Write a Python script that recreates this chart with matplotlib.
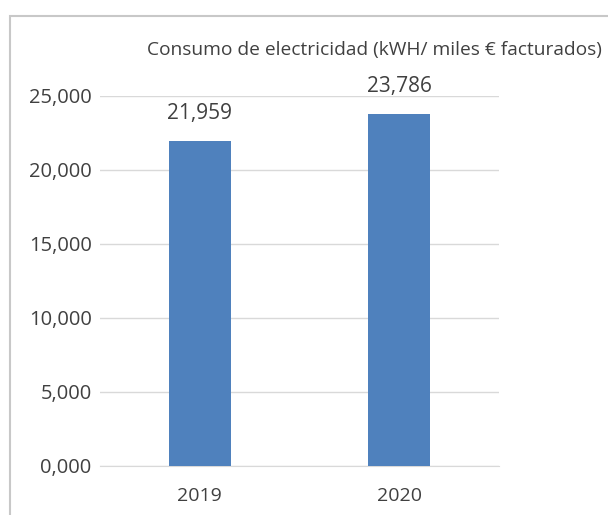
import matplotlib
matplotlib.use("Agg")
import matplotlib.pyplot as plt
from matplotlib.patches import Rectangle
from matplotlib.ticker import FuncFormatter, MultipleLocator

categories = ["2019", "2020"]
values = [21.959, 23.786]
title = "Consumo de electricidad (kWH/ miles € facturados)"

plt.rcParams['font.family'] = ['Open Sans', 'DejaVu Sans']
text_color = "#404040"
bar_color = "#4F81BD"

fig = plt.figure(figsize=(6.08, 5.15), dpi=100)
W, H = 608, 515
ax = fig.add_axes([100 / W, (H - 466) / H, 399 / W, 370 / H])

x = list(range(len(categories)))
ax.bar(x, values, width=0.31, color=bar_color, zorder=3)
ax.set_xlim(-0.5, 1.5)
ax.set_ylim(0, 25)
ax.yaxis.set_major_locator(MultipleLocator(5))
fmt = lambda v, p=None: f"{v:.3f}".replace('.', ',')
ax.yaxis.set_major_formatter(FuncFormatter(fmt))
ax.set_xticks(x)
ax.set_xticklabels(categories)
ax.grid(axis='y', color="#d9d9d9", linewidth=1, zorder=0)
for s in ax.spines.values():
    s.set_visible(False)
ax.spines['bottom'].set_visible(True)
ax.spines['bottom'].set_color("#d9d9d9")
ax.tick_params(axis='y', length=0, labelsize=14.5, colors=text_color, pad=6)
ax.tick_params(axis='x', length=0, labelsize=14, colors=text_color, pad=15)

for xi, v in zip(x, values):
    ax.annotate(fmt(v), (xi, v), xytext=(0, 12), textcoords='offset points',
                ha='center', va='bottom', fontsize=15, color=text_color)

fig.text(374 / W, (H - 50) / H, title, ha='center', va='center',
         fontsize=13.8, color=text_color)

fig.patches.append(Rectangle((9.5 / W, -0.1), 1.2, (H - 15.5) / H + 0.1,
                             transform=fig.transFigure, fill=False,
                             edgecolor="#c8c8c8", linewidth=1.5))

fig.savefig("out.png", dpi=100)
